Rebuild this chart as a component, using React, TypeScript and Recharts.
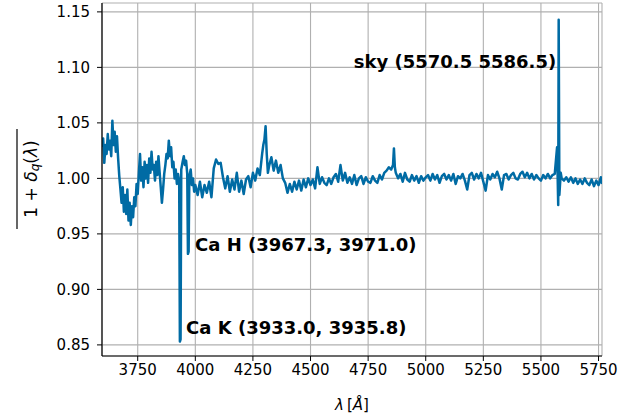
import React from "react";
import { LineChart, Line, XAxis, YAxis, CartesianGrid, ReferenceDot } from "recharts";

const FONT = "DejaVu Sans";
const LINE_COLOR = "#006BA4";

// wavelength in Angstrom
const wavelength = [
  3596, 3600, 3605, 3610, 3615, 3620, 3625, 3630, 3635, 3640,
  3645, 3650, 3655, 3660, 3665, 3670, 3675, 3680, 3685, 3690,
  3695, 3700, 3705, 3710, 3715, 3720, 3725, 3730, 3735, 3740,
  3745, 3750, 3755, 3760, 3765, 3770, 3775, 3780, 3785, 3790,
  3795, 3800, 3805, 3810, 3815, 3820, 3825, 3830, 3835, 3840,
  3845, 3850, 3855, 3860, 3865, 3870, 3875, 3880, 3885, 3890,
  3895, 3900, 3905, 3910, 3915, 3920, 3925, 3930, 3933, 3936,
  3939, 3945, 3950, 3955, 3960, 3965, 3968, 3971, 3974, 3980,
  3985, 3990, 3995, 4000, 4010, 4020, 4030, 4040, 4050, 4060,
  4070, 4080, 4090, 4100, 4110, 4120, 4130, 4140, 4150, 4160,
  4170, 4180, 4190, 4200, 4210, 4220, 4230, 4240, 4250, 4260,
  4270, 4280, 4290, 4295, 4300, 4305, 4310, 4315, 4320, 4330,
  4340, 4350, 4360, 4370, 4380, 4390, 4400, 4410, 4420, 4430,
  4440, 4450, 4460, 4470, 4480, 4490, 4500, 4510, 4520, 4530,
  4540, 4550, 4560, 4570, 4580, 4590, 4600, 4610, 4620, 4630,
  4640, 4650, 4660, 4670, 4680, 4690, 4700, 4710, 4720, 4730,
  4740, 4750, 4760, 4770, 4780, 4790, 4800, 4810, 4820, 4830,
  4840, 4850, 4858, 4862, 4866, 4870, 4880, 4890, 4900, 4910,
  4920, 4930, 4940, 4950, 4960, 4970, 4980, 4990, 5000, 5010,
  5020, 5030, 5040, 5050, 5060, 5070, 5080, 5090, 5100, 5110,
  5120, 5130, 5140, 5150, 5160, 5170, 5180, 5190, 5200, 5210,
  5220, 5230, 5240, 5250, 5260, 5270, 5280, 5290, 5300, 5310,
  5320, 5330, 5340, 5350, 5360, 5370, 5380, 5390, 5400, 5410,
  5420, 5430, 5440, 5450, 5460, 5470, 5480, 5490, 5500, 5510,
  5520, 5530, 5540, 5550, 5560, 5570, 5575, 5577, 5580, 5586,
  5590, 5600, 5610, 5620, 5630, 5640, 5650, 5660, 5670, 5680,
  5690, 5700, 5710, 5720, 5730, 5740, 5750, 5760, 5765,
];

const flux = [
  1.028, 1.036, 1.014, 1.030, 1.022, 1.040, 1.026, 1.034, 1.020, 1.052,
  1.030, 1.042, 1.024, 1.038, 1.018, 1.002, 0.990, 0.978, 0.992, 0.970,
  0.985, 0.968, 0.990, 0.962, 0.978, 0.958, 0.975, 0.965, 0.983, 0.975,
  0.995, 0.986, 1.005, 1.022, 0.998, 1.010, 0.992, 1.015, 1.000, 1.012,
  0.996, 1.018, 1.005, 1.024, 1.008, 1.012, 0.998, 1.015, 1.003, 1.020,
  1.006, 0.992, 0.978, 0.990, 1.004, 1.012, 1.022, 1.018, 1.034, 1.020,
  1.028, 1.010, 1.015, 1.000, 1.008, 0.995, 1.004, 0.998, 0.853, 0.855,
  1.008, 1.015, 1.020, 1.012, 1.016, 1.004, 0.932, 0.934, 1.002, 1.008,
  0.994, 1.000, 0.988, 0.994, 0.985, 0.997, 0.983, 0.994, 0.987, 0.997,
  0.983, 1.009, 1.017, 1.013, 1.014, 1.001, 0.991, 1.002, 0.988, 0.999,
  0.990, 1.005, 0.988, 0.998, 0.986, 0.999, 1.002, 0.992, 1.005, 0.998,
  1.009, 1.003, 1.022, 1.030, 1.035, 1.047, 1.022, 1.005, 1.011, 1.019,
  1.007, 1.016, 1.005, 1.012, 1.000, 0.996, 0.987, 0.995, 0.988, 0.997,
  0.990, 0.998, 0.989, 0.999, 0.992, 1.000, 0.994, 0.999, 0.991, 1.010,
  0.995, 1.001, 0.996, 0.994, 1.000, 0.995, 1.001, 1.004, 0.997, 1.012,
  0.998, 1.005, 0.996, 1.001, 0.995, 1.003, 0.994, 1.000, 1.002, 0.995,
  1.001, 0.997, 0.996, 1.002, 0.998, 0.996, 1.003, 0.999, 1.005, 1.007,
  1.010, 1.008, 1.012, 1.027, 1.010, 1.005, 1.000, 1.004, 0.997, 1.005,
  0.999, 0.997, 1.003, 0.998, 1.002, 0.996, 1.002, 0.998, 1.001, 1.003,
  0.998, 1.004, 0.999, 1.003, 0.996, 1.002, 1.004, 0.999, 1.003, 0.998,
  1.004, 0.995, 1.002, 1.000, 1.004, 0.998, 0.990, 1.003, 1.005, 0.999,
  1.004, 1.000, 1.005, 0.997, 0.989, 1.003, 0.999, 1.004, 1.001, 1.006,
  1.000, 0.990, 1.003, 1.004, 0.999, 1.003, 1.005, 1.000, 0.999, 1.004,
  1.006, 1.001, 1.005, 1.000, 1.004, 0.999, 1.003, 1.000, 0.998, 1.003,
  1.000, 1.004, 1.000, 1.003, 1.004, 1.028, 0.976, 1.143, 0.985, 1.005,
  1.000, 0.998, 1.001, 0.997, 1.001, 0.996, 1.000, 0.995, 0.999, 0.995,
  1.000, 0.996, 0.994, 0.999, 0.993, 0.998, 0.994, 1.001, 0.995,
];

const xTicks = [3750, 4000, 4250, 4500, 4750, 5000, 5250, 5500, 5750];
const yTicks = [0.85, 0.9, 0.95, 1.0, 1.05, 1.1, 1.15];

const annotations = [
  { label: "Ca K (3933.0, 3935.8)", x: 3960, y: 0.866, anchor: "start" },
  { label: "Ca H (3967.3, 3971.0)", x: 3999, y: 0.9405, anchor: "start" },
  { label: "sky (5570.5 5586.5)", x: 5566, y: 1.1054, anchor: "end" },
];

const data = wavelength.map((wl, i) => ({ wl, flux: flux[i] }));

const tickStyle = { fill: "#000", fontSize: 15, fontFamily: FONT };

function annotationLabel(text: string, anchor: string) {
  return (props: any) => {
    const vb = props.viewBox || {};
    return (
      <text
        x={vb.x}
        y={vb.y}
        textAnchor={anchor}
        dominantBaseline="central"
        fontFamily={FONT}
        fontWeight="bold"
        fontSize={18}
        fill="#000"
      >
        {text}
      </text>
    );
  };
}

export default function App() {
  return (
    <div style={{ position: "absolute", left: 0, top: 0, width: 639, height: 417, background: "#fff" }}>
      <LineChart width={639} height={417} data={data} margin={{ top: 3, right: 37, left: 0, bottom: 0 }}>
        <CartesianGrid stroke="#b0b0b0" strokeWidth={1.1} />
        <XAxis
          dataKey="wl"
          type="number"
          domain={[3595, 5765]}
          ticks={xTicks}
          interval={0}
          allowDataOverflow
          height={61}
          tickSize={5}
          tickMargin={3}
          tick={tickStyle}
          tickLine={{ stroke: "#000" }}
          axisLine={{ stroke: "#000", strokeWidth: 1.2 }}
        />
        <XAxis
          xAxisId="top"
          orientation="top"
          dataKey="wl"
          type="number"
          domain={[3595, 5765]}
          height={0}
          tick={false}
          tickLine={false}
          axisLine={{ stroke: "#000", strokeWidth: 1.2 }}
        />
        <YAxis
          type="number"
          domain={[0.84, 1.158]}
          ticks={yTicks}
          interval={0}
          allowDataOverflow
          width={102}
          tickSize={5}
          tickMargin={7}
          tick={tickStyle}
          tickFormatter={(v: number) => v.toFixed(2)}
          tickLine={{ stroke: "#000" }}
          axisLine={{ stroke: "#000", strokeWidth: 1.2 }}
        />
        <YAxis
          yAxisId="right"
          orientation="right"
          type="number"
          domain={[0.84, 1.158]}
          width={0}
          tick={false}
          tickLine={false}
          axisLine={{ stroke: "#000", strokeWidth: 1.2 }}
        />
        <Line
          dataKey="flux"
          type="linear"
          stroke={LINE_COLOR}
          strokeWidth={2.5}
          strokeLinejoin="round"
          dot={false}
          isAnimationActive={false}
        />
        {annotations.map((a) => (
          <ReferenceDot
            key={a.label}
            x={a.x}
            y={a.y}
            r={0}
            fill="none"
            stroke="none"
            label={annotationLabel(a.label, a.anchor)}
          />
        ))}
      </LineChart>
      <svg
        width={639}
        height={417}
        style={{ position: "absolute", left: 0, top: 0, pointerEvents: "none" }}
      >
        <text x={352} y={405} textAnchor="middle" dominantBaseline="central" fontFamily={FONT} fontSize={15} fill="#000">
          <tspan fontStyle="italic">λ</tspan>
          {"\u2009["}
          <tspan fontStyle="italic">Å</tspan>
          {"]"}
        </text>
        <g transform="translate(31,179) rotate(-90)">
          <text x={0} y={0} textAnchor="middle" dominantBaseline="central" fontFamily={FONT} fontSize={17} fill="#000">
            {"1 + "}
            <tspan fontStyle="italic">δ</tspan>
            <tspan fontStyle="italic" fontSize={12} dy={4}>q</tspan>
            <tspan dy={-4}>(</tspan>
            <tspan fontStyle="italic">λ</tspan>
            {")"}
          </text>
          <line x1={-50} x2={50} y1={-14} y2={-14} stroke="#000" strokeWidth={1.2} />
        </g>
      </svg>
    </div>
  );
}
